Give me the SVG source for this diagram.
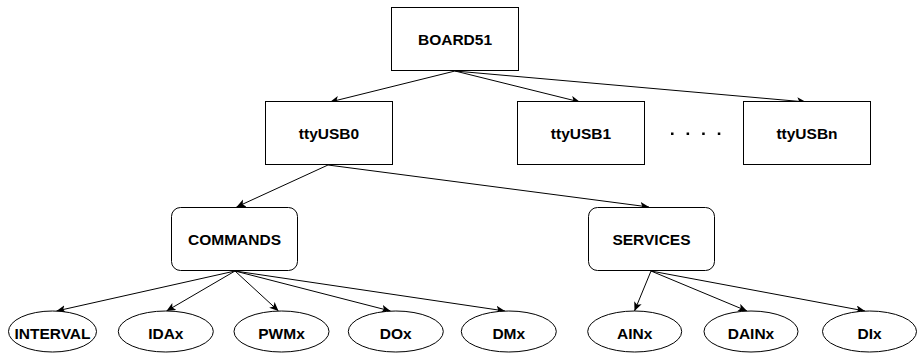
<svg xmlns="http://www.w3.org/2000/svg" width="917" height="353" viewBox="0 0 917 353">
  <style>
    .box { fill: #ffffff; stroke: #000000; stroke-width: 1; }
    .leaf { fill: #ffffff; stroke: #000000; stroke-width: 1; }
    .lbl { font-family: "Liberation Sans", Arial, sans-serif; font-weight: bold; font-size: 15.5px; fill: #000000; text-anchor: middle; }
    .edge { fill: none; stroke: #000000; stroke-width: 1; marker-end: url(#arrow); }
  </style>
  <defs>
    <marker id="arrow" markerUnits="userSpaceOnUse" markerWidth="12" markerHeight="10" refX="9" refY="4" orient="auto">
      <path d="M0,0 L9,4 L0,8 L2.2,4 Z" fill="#000000"/>
    </marker>
  </defs>
  <rect width="917" height="353" fill="#ffffff"/>

  <g id="connectors">
    <line class="edge" x1="455" y1="71" x2="330" y2="102"/>
    <line class="edge" x1="455" y1="71" x2="580" y2="102"/>
    <line class="edge" x1="455" y1="71" x2="806" y2="102"/>
    <line class="edge" x1="328" y1="165" x2="236.5" y2="207"/>
    <line class="edge" x1="328" y1="165" x2="649" y2="207"/>
    <line class="edge" x1="235" y1="271" x2="56.5" y2="311"/>
    <line class="edge" x1="235" y1="271" x2="166.5" y2="311"/>
    <line class="edge" x1="235" y1="271" x2="278.5" y2="311"/>
    <line class="edge" x1="235" y1="271" x2="390.5" y2="311"/>
    <line class="edge" x1="235" y1="271" x2="505" y2="311"/>
    <line class="edge" x1="651" y1="271" x2="634.5" y2="311"/>
    <line class="edge" x1="651" y1="271" x2="747" y2="311"/>
    <line class="edge" x1="651" y1="271" x2="865" y2="311"/>
  </g>

  <g id="board51">
    <rect class="box" x="391.5" y="7.5" width="127" height="63"/>
    <text class="lbl" x="455" y="45">BOARD51</text>
  </g>
  <g id="ttyUSB0">
    <rect class="box" x="265.5" y="101.5" width="127" height="63"/>
    <text class="lbl" x="329" y="139.3">ttyUSB0</text>
  </g>
  <g id="ttyUSB1">
    <rect class="box" x="517.5" y="101.5" width="127" height="63"/>
    <text class="lbl" x="581" y="139.3">ttyUSB1</text>
  </g>
  <g id="ellipsis">
    <line x1="671" y1="133.8" x2="721" y2="133.8" stroke="#000000" stroke-width="2.5" stroke-dasharray="2.5 13.1"/>
  </g>
  <g id="ttyUSBn">
    <rect class="box" x="743.5" y="101.5" width="127" height="63"/>
    <text class="lbl" x="807" y="139.3">ttyUSBn</text>
  </g>

  <g id="commands">
    <rect class="box" x="171.5" y="207.5" width="126" height="63" rx="9" ry="9"/>
    <text class="lbl" x="234.5" y="245">COMMANDS</text>
  </g>
  <g id="services">
    <rect class="box" x="588.5" y="207.5" width="126" height="63" rx="9" ry="9"/>
    <text class="lbl" x="651.5" y="245">SERVICES</text>
  </g>

  <g id="interval">
    <ellipse class="leaf" cx="52.5" cy="331.5" rx="44" ry="20.5"/>
    <text class="lbl" x="52.5" y="339">INTERVAL</text>
  </g>
  <g id="idax">
    <ellipse class="leaf" cx="165.8" cy="331.5" rx="47.5" ry="20.5"/>
    <text class="lbl" x="165.8" y="339">IDAx</text>
  </g>
  <g id="pwmx">
    <ellipse class="leaf" cx="281.5" cy="331.5" rx="47.5" ry="20.5"/>
    <text class="lbl" x="281.5" y="339">PWMx</text>
  </g>
  <g id="dox">
    <ellipse class="leaf" cx="395.8" cy="331.5" rx="47.5" ry="20.5"/>
    <text class="lbl" x="395.8" y="339">DOx</text>
  </g>
  <g id="dmx">
    <ellipse class="leaf" cx="508.8" cy="331.5" rx="47.5" ry="20.5"/>
    <text class="lbl" x="508.8" y="339">DMx</text>
  </g>
  <g id="ainx">
    <ellipse class="leaf" cx="634.7" cy="331.5" rx="47" ry="20.5"/>
    <text class="lbl" x="634.7" y="339">AINx</text>
  </g>
  <g id="dainx">
    <ellipse class="leaf" cx="751" cy="331.5" rx="47" ry="20.5"/>
    <text class="lbl" x="751" y="339">DAINx</text>
  </g>
  <g id="dix">
    <ellipse class="leaf" cx="869.5" cy="331.5" rx="47" ry="20.5"/>
    <text class="lbl" x="869.5" y="339">DIx</text>
  </g>
</svg>
